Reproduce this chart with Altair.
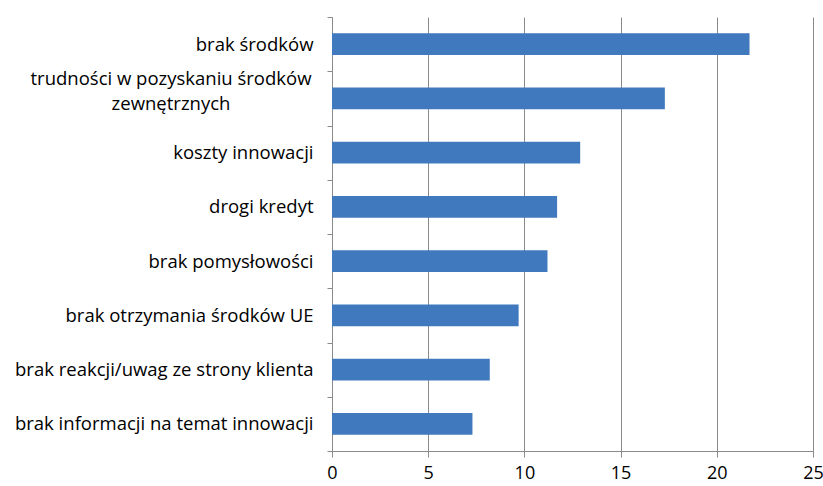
import altair as alt
import pandas as pd

categories = [
    "brak środków",
    "trudności w pozyskaniu środków|zewnętrznych",
    "koszty innowacji",
    "drogi kredyt",
    "brak pomysłowości",
    "brak otrzymania środków UE",
    "brak reakcji/uwag ze strony klienta",
    "brak informacji na temat innowacji",
]
values = [21.7, 17.3, 12.9, 11.7, 11.2, 9.7, 8.2, 7.3]
x_ticks = [0, 5, 10, 15, 20, 25]

df = pd.DataFrame({"cat": categories, "val": values})

FONT = "Open Sans"
GRAY = "#8a8a8a"

y_enc = alt.Y(
    "cat:N",
    sort=categories,
    scale=alt.Scale(paddingInner=0, paddingOuter=0),
    axis=alt.Axis(
        title=None,
        tickBand="extent",
        domainColor=GRAY,
        tickColor=GRAY,
        tickSize=5,
        labelFont=FONT,
        labelFontSize=18.5,
        labelColor="#000000",
        labelPadding=14,
        labelLimit=400,
        labelExpr="indexof(datum.label, '|') >= 0 ? '' : datum.label",
    ),
)

bars = alt.Chart(df).mark_bar(color="#4079bd", height=alt.RelativeBandSize(0.4)).encode(
    x=alt.X(
        "val:Q",
        scale=alt.Scale(domain=[0, 25], nice=False, zero=True),
        axis=alt.Axis(
            values=x_ticks,
            title=None,
            grid=True,
            gridColor=GRAY,
            gridWidth=1,
            domainColor=GRAY,
            tickColor=GRAY,
            tickSize=6,
            labelFont=FONT,
            labelFontSize=18,
            labelColor="#000000",
            labelPadding=7,
            labelFlush=False,
        ),
    ),
    y=y_enc,
)

# two-line category label, centred like the original
multi = (
    alt.Chart(df)
    .transform_filter("indexof(datum.cat, '|') >= 0")
    .transform_calculate(lbl="split(datum.cat, '|')")
    .mark_text(
        align="center",
        baseline="middle",
        font=FONT,
        fontSize=18.5,
        color="#000000",
        lineHeight=25,
        dy=-19.5,
    )
    .encode(y=alt.Y("cat:N", sort=categories), x=alt.value(-161), text="lbl:N")
)

chart = (
    alt.layer(bars, multi)
    .properties(
        width=481,
        height=434,
        autosize="none",
        padding={"left": 332, "top": 17, "right": 10, "bottom": 35},
    )
    .configure_view(stroke=None)
)

chart.save("out.html", embed_options={"renderer": "svg", "actions": False})
